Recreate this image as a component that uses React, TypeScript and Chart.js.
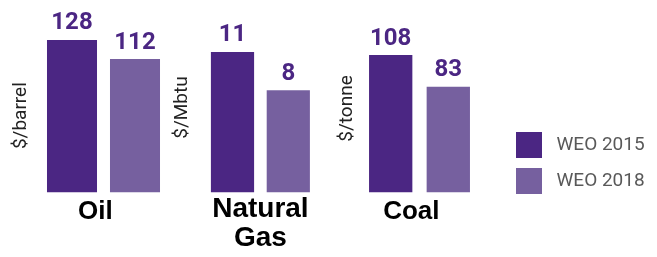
import React, { useEffect, useRef } from 'react';
import { Chart, registerables } from 'chart.js';

Chart.register(...registerables);

// ---- data ----
const categories = ['Oil', 'Natural Gas', 'Coal'];
const units = ['$/barrel', '$/Mbtu', '$/tonne'];
const seriesNames = ['WEO 2015', 'WEO 2018'];
const weo2015 = [128, 11, 108];
const weo2018 = [112, 8, 83];
const axisMax = [129, 13.3, 132];

// ---- style ----
const COLORS = ['#4B2683', '#76609F'];
const VALUE_COLOR = '#4B2683';
const ROBOTO = 'Roboto, "Noto Sans", sans-serif';
const ARIAL = '"Liberation Sans", Arial, sans-serif';
const TITLE_SIZE = 19;

type PanelLayout = {
  left: number; width: number; axisWidth: number; titleX: number;
  top: number; right: number; barPct: number; labelOffset: number;
  labelSize: number; labelPad: number;
};

const panelLayouts: PanelLayout[] = [
  { left: 0, width: 170, axisWidth: 40.5, titleX: 21.2, top: 38.8, right: 3.5, barPct: 0.794, labelOffset: -8.2, labelSize: 26, labelPad: 4.5 },
  { left: 170, width: 150, axisWidth: 34.6, titleX: 12.5, top: 22.5, right: 3.8, barPct: 0.774, labelOffset: 0, labelSize: 28, labelPad: 2.6 },
  { left: 325, width: 155, axisWidth: 36.9, titleX: 22.2, top: 24.5, right: 2.9, barPct: 0.752, labelOffset: -8.2, labelSize: 26, labelPad: 4.5 },
];

const H = 257;
const X_AXIS_H = 64.5;

const valueLabels = {
  id: 'valueLabels',
  afterDatasetsDraw(chart: any) {
    const ctx = chart.ctx;
    ctx.save();
    ctx.font = `700 24px ${ROBOTO}`;
    ctx.fillStyle = VALUE_COLOR;
    ctx.textAlign = 'center';
    ctx.textBaseline = 'alphabetic';
    chart.data.datasets.forEach((ds: any, di: number) => {
      const meta = chart.getDatasetMeta(di);
      meta.data.forEach((el: any, j: number) => {
        const v = ds.data[j];
        if (v == null) return;
        ctx.fillText(String(v), el.x, el.y - 10.5);
      });
    });
    ctx.restore();
  },
};

function makePanel(canvas: HTMLCanvasElement, i: number) {
  const L = panelLayouts[i];
  const values = [weo2015[i], weo2018[i]];
  const titleLineHeight = TITLE_SIZE * 1.2;
  return new Chart(canvas, {
    type: 'bar',
    data: {
      labels: [categories[i]],
      datasets: seriesNames.map((name, s) => ({
        label: name,
        data: [values[s]],
        backgroundColor: COLORS[s],
        borderWidth: 0,
        categoryPercentage: 1,
        barPercentage: L.barPct,
      })),
    },
    options: {
      animation: false,
      responsive: false,
      devicePixelRatio: 1,
      events: [],
      layout: { padding: { left: 0, right: L.right, top: L.top, bottom: 0 } },
      plugins: { legend: { display: false }, tooltip: { enabled: false }, title: { display: false } },
      scales: {
        x: {
          type: 'category',
          grid: { display: false, drawTicks: false },
          border: { display: false },
          ticks: {
            autoSkip: false,
            maxRotation: 0,
            minRotation: 0,
            padding: L.labelPad,
            labelOffset: L.labelOffset,
            color: '#000000',
            font: { family: ARIAL, size: L.labelSize, weight: 'bold', lineHeight: 29 / L.labelSize },
            callback: () => categories[i].split(' '),
          },
          afterFit: (scale: any) => { scale.height = X_AXIS_H; },
        },
        y: {
          type: 'linear',
          min: 0,
          max: axisMax[i],
          grid: { display: false, drawTicks: false },
          border: { display: false },
          ticks: { display: false },
          title: {
            display: true,
            text: units[i],
            color: '#222222',
            font: { family: ROBOTO, size: TITLE_SIZE, weight: '400', lineHeight: 1.2 },
            padding: { top: L.titleX - titleLineHeight / 2, bottom: 0 },
          },
          afterFit: (scale: any) => { scale.width = L.axisWidth; },
        },
      },
    } as any,
    plugins: [valueLabels],
  });
}

function makeLegend(canvas: HTMLCanvasElement) {
  return new Chart(canvas, {
    type: 'bar',
    data: {
      labels: [],
      datasets: seriesNames.map((name, s) => ({ label: name, data: [], backgroundColor: COLORS[s] })),
    },
    options: {
      animation: false,
      responsive: false,
      devicePixelRatio: 1,
      events: [],
      layout: { padding: 0 },
      scales: { x: { display: false }, y: { display: false } },
      plugins: {
        tooltip: { enabled: false },
        legend: {
          display: true,
          position: 'left',
          align: 'start',
          labels: {
            boxWidth: 36,
            boxHeight: 36,
            padding: 0,
            color: '#595959',
            font: { family: ROBOTO, size: 19, weight: '400' },
            generateLabels: (chart: any) =>
              (Chart.defaults.plugins.legend.labels.generateLabels as any)(chart).map((item: any) => ({
                ...item,
                lineWidth: 10,
                strokeStyle: '#ffffff',
              })),
          },
        },
      },
    } as any,
  });
}

export default function App() {
  const refs = [useRef<HTMLCanvasElement>(null), useRef<HTMLCanvasElement>(null), useRef<HTMLCanvasElement>(null)];
  const legendRef = useRef<HTMLCanvasElement>(null);

  useEffect(() => {
    const charts: Chart[] = [];
    refs.forEach((r, i) => {
      if (r.current) charts.push(makePanel(r.current, i));
    });
    if (legendRef.current) charts.push(makeLegend(legendRef.current));
    return () => charts.forEach((c) => c.destroy());
  }, []);

  return (
    <div style={{ position: 'absolute', left: 0, top: 0, width: 657, height: 257, overflow: 'hidden', background: '#ffffff' }}>
      {panelLayouts.map((L, i) => (
        <canvas
          key={i}
          ref={refs[i]}
          width={L.width}
          height={H}
          style={{ position: 'absolute', left: L.left, top: 0, width: L.width, height: H }}
        />
      ))}
      <canvas
        ref={legendRef}
        width={320}
        height={80}
        style={{ position: 'absolute', left: 511, top: 127, width: 320, height: 80 }}
      />
    </div>
  );
}
